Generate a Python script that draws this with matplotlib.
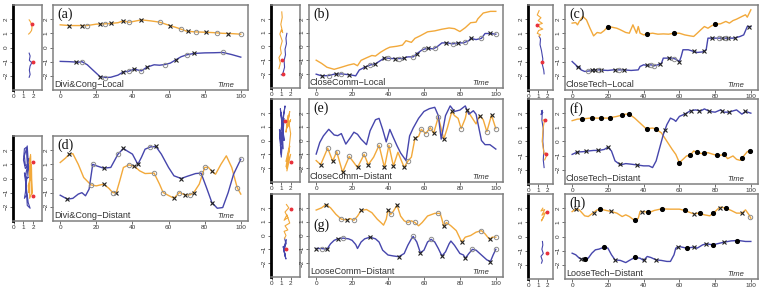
import numpy as np
import matplotlib
matplotlib.use('Agg')
import matplotlib.pyplot as plt

# ---------------- data ----------------
# (a) Divi&Cong-Local
a_or_t = [0,5,10,15,20,25,28,32,35,38,41,45,50,55,60,65,70,75,80,85,90,95,100]
a_or_v = [1.6,1.55,1.55,1.55,1.65,1.67,1.7,1.75,1.88,1.78,1.85,1.95,1.88,1.79,1.58,1.38,1.15,1.1,1.08,1.05,1.0,0.98,0.94]
a_bl_t = [0,5,10,12,15,18,22,25,28,32,35,38,41,45,48,52,55,58,61,64,67,70,74,80,85,90,95,100]
a_bl_v = [-0.98,-1.0,-1.04,-1.0,-1.22,-1.58,-2.05,-2.12,-2.1,-1.95,-1.72,-1.67,-1.53,-1.65,-1.39,-1.22,-1.25,-1.2,-1.1,-0.87,-0.65,-0.52,-0.42,-0.38,-0.37,-0.35,-0.5,-0.68]
a_or_x = [5,12,22,28,35,45,61,71,81,93]
a_or_o = [15,25,38,55,67,75,87,100]
a_bl_x = [9,22,35,41,48,64,74]
a_bl_o = [12,25,38,45,58,70,90]

# (d) Divi&Cong-Distant
d_or_t = [0,3,5,7,10,13,17,20,24,27,29,31,33,35,38,41,44,47,52,55,57,60,63,66,69,72,74,77,80,82,84,86,89,92,95,98,100]
d_or_v = [1.13,1.45,1.72,1.75,1.0,0.07,-0.45,-0.52,-0.4,-0.7,-0.99,-1.03,-0.15,0.78,0.96,0.87,0.54,0.35,0.38,-0.4,-0.99,-1.2,-1.39,-0.99,-1.15,-1.15,-0.99,-0.4,0.78,0.8,0.5,0.3,1.0,1.6,0.78,-0.64,-1.1]
d_bl_t = [0,4,7,10,12,14,16,18,20,24,28,30,32,35,37,40,43,45,47,50,53,56,60,63,67,70,75,78,81,84,87,90,93,96,100]
d_bl_v = [-1.18,-1.46,-1.4,-1.1,-1.0,-1.22,-0.75,1.0,0.9,0.73,0.78,1.25,1.72,2.12,1.95,1.72,1.0,1.5,2.07,2.23,2.26,1.72,0.78,0.19,0.0,0.14,0.35,0.38,-0.64,-1.7,-2.1,-2.05,-1.0,0.3,1.36]
d_or_x = [5,24,31,41,63,69,74,84]
d_or_o = [17,29,38,52,57,66,72,80,98]
d_bl_x = [4,24,35,43,53,67,84]
d_bl_o = [18,32,50,78,100]

# (b) CloseComm-Local
b_or_t = [0,3,6,10,14,18,21,23,25,28,31,33,36,39,41,45,48,50,53,55,58,62,66,70,74,77,80,83,86,89,90,93,97,100]
b_or_v = [-0.99,-1.22,-1.5,-1.65,-1.5,-1.34,-1.25,-1.39,-1.0,-0.82,-0.65,-0.69,-0.4,-0.17,-0.05,0.02,0.1,0.42,0.3,0.59,0.78,1.06,1.13,1.25,1.34,1.29,1.08,1.36,1.72,1.76,2.0,2.42,2.54,2.54]
b_bl_t = [0,3,7,10,14,19,22,24,27,30,33,36,38,42,45,48,51,54,56,59,62,65,67,70,73,76,79,82,85,86,89,92,94,97,100]
b_bl_v = [-2.0,-2.12,-2.1,-2.0,-1.98,-2.05,-2.12,-1.7,-1.5,-1.34,-1.25,-1.0,-0.82,-0.87,-0.87,-0.87,-0.75,-0.75,-0.52,-0.24,-0.12,-0.17,-0.05,0.26,0.26,0.19,0.26,0.26,0.42,0.59,0.5,0.59,0.94,0.94,0.89]
b_bl_x = [3,11,18,27,33,38,44,49,56,62,72,79,86,97]
b_bl_o = [7,14,30,40,46,54,60,66,76,83,92,100]

# (e) CloseComm-Distant
e_or_t = [0,2.5,6.4,9.2,11.4,14.7,18.4,23,26.7,29,32,35,38,40.5,43,45.5,49,51,53,55,57,58.5,61,63.5,65.4,68,71,73,75.5,77,79,80.7,83,84,87,89,91,93,95,97.6,100]
e_or_v = [-1.45,-1.75,-0.55,-1.5,-0.8,-2.3,-1.15,-1.95,-1.0,-1.75,-1.2,-0.35,-1.95,-0.35,-1.85,-0.85,-1.95,-1.5,-1.2,0.17,0.3,0.81,0.5,0.93,0.52,1.71,0.1,0.9,2.1,1.8,1.6,0.86,1.6,2.2,1.6,1.2,1.8,1.5,0.64,1.83,0.86]
e_bl_t = [0,2,4,7,10,12,14,16.5,19,21,23,25,28,30,33,35,37,39,41,43,45,47,50,52,54,57,60,63,66,68,69.6,72,74.6,77,80,83,85,87.5,89,92,94,96.7,100]
e_bl_v = [-0.98,-0.14,0.33,0.81,0.4,0.35,0.5,-0.26,0.2,0.6,0.45,0.1,-0.3,0.7,1.5,1.6,0.81,-0.1,0.8,0.2,-0.38,-0.9,-1.45,0.33,0.9,1.6,2.1,2.3,2.4,1.8,0.1,1.8,2.5,2.1,2.2,2.5,1.9,2.15,1.9,0.0,-0.3,-0.3,-0.62]
e_or_x = [2.5,9.2,14.7,23,29,38,43,49,55,65.4,71,75.5,84,91,97.6]
e_or_o = [6.4,11.4,18.4,26.7,35,40.5,51,58.5,61,63.5,68,80.7,95,100]

# (g) LooseComm-Distant
g_or_t = [0,3,5.5,8,11,14,17,19,21,23,25,28,31,34,36,37.5,39,40,41.5,43,45,47,49,51,53,55,57,59,62,66,69,70,71,72.5,75,78,81,83,86,89,92,94,96.5,98,100]
g_or_v = [1.84,2.0,2.24,2.0,1.53,1.18,1.13,1.22,1.1,1.4,1.81,1.88,1.65,1.18,0.94,0.75,1.18,1.84,1.53,1.76,2.19,1.4,1.06,0.94,1.06,0.94,0.7,0.94,1.41,1.6,1.6,1.18,0.66,0.94,0.7,0.35,-0.47,-0.12,0.0,0.24,0.35,0.12,-0.28,-0.12,-0.12]
g_bl_t = [0,3,6,8,10,12,15,18,20,22,23,25,27,30,33,35,37,40,43,46,49,51,53,54,56,58,60,62,64,66,68,70,72,74,75,77,80,82,83,85,87,89,92,95,97,98.5,100]
g_bl_v = [-0.94,-0.94,-0.99,-0.6,-0.35,-0.24,-0.19,-0.24,-0.35,-0.65,-0.94,-0.47,-0.24,-0.12,-0.24,-0.47,-1.06,-1.41,-1.48,-1.53,-1.3,-0.71,-0.24,-0.07,-0.47,-1.25,-1.06,-0.47,-0.28,-0.47,-0.94,-1.48,-1.18,-0.6,-0.4,-0.71,-1.3,-1.41,-1.65,-1.3,-1.0,-1.06,-1.41,-1.76,-1.88,-1.41,-1.0]
g_or_x = [5.5,17,25,40,45,71,81,96.5]
g_or_o = [14,21,41.5,51,55,68,72.5,92,100]
g_bl_x = [0,6,12,30,46,58,70,83,97]
g_bl_o = [3,15,54,64,87,100]

# (c) CloseTech-Local
c_or_t = [0,2,3,4,6,8,10,12,14,16,18,20,22,25,27,30,32,34,36,37,38,40,42,45,48,51,54,57,60,63,66,68,70,72,74,76,78,80,83,86,88,90,92,95,97,98,100]
c_or_v = [1.72,1.76,1.6,1.84,2.19,1.95,1.36,0.82,1.06,1.01,1.2,1.48,1.44,1.36,1.25,1.06,1.01,1.6,1.01,1.48,1.01,0.89,0.96,1.01,0.94,0.96,0.94,1.01,1.01,0.89,0.82,0.78,1.01,1.25,1.48,1.36,1.53,1.65,1.67,1.84,1.72,1.9,2.0,2.19,2.31,2.14,2.66]
c_bl_t = [0,1,2,3,4,5,7,10,12,15,17,20,23,26,29,33,37,38,40,42,44,46,48,50,51,53,56,58,60,61,62,65,67,70,73,75,76,78,81,84,88,90,92,94,96,98,100]
c_bl_v = [-0.99,-1.11,-1.22,-1.41,-1.34,-1.58,-1.69,-1.65,-1.58,-1.58,-1.6,-1.62,-1.58,-1.58,-1.58,-1.62,-1.58,-1.34,-1.22,-1.27,-1.22,-1.29,-1.22,-1.11,-0.75,-0.75,-0.75,-0.82,-0.99,-0.64,-0.16,-0.16,-0.24,-0.35,-0.31,-0.16,0.66,0.66,0.66,0.66,0.66,0.66,0.71,0.78,0.89,1.48,1.48]
c_or_dot = [20,42,57,80]
c_bl_x = [3,11,13,16,24,29,42,49,54,60,68,74,78,84,87,91,99]
c_bl_o = [9,15,26,44,46,57,82,86]

# (f) CloseTech-Distant
f_or_t = [0,3,6,10,15,20,25,30,32,35,38,41,42,45,47,50,53,56,58,60,62,64,66,68,70,73,76,79,82,85,87,90,92,94,96,98,100]
f_or_v = [1.47,1.58,1.6,1.65,1.65,1.65,1.77,1.93,1.93,1.65,1.3,0.95,0.91,0.95,0.88,0.6,0.02,-0.56,-0.91,-1.49,-1.26,-1.02,-0.98,-0.67,-0.79,-0.86,-0.79,-0.91,-1.0,-0.91,-1.21,-1.02,-1.26,-1.33,-1.02,-0.72,-0.63]
f_bl_t = [0,3,6,9,12,15,18,20,22,24,27,30,33,36,40,43,45,47,49,51,53,55,57,58,60,62,64,66,69,72,74,77,80,83,85,88,90,92,95,97,100]
f_bl_v = [-0.91,-0.74,-0.72,-0.67,-0.63,-0.63,-0.56,-0.4,-0.67,-1.37,-1.65,-1.56,-1.6,-1.65,-1.72,-1.72,-1.84,-1.37,-0.44,0.49,1.19,1.65,1.53,1.42,1.77,1.88,2.0,2.16,2.23,2.16,2.3,2.12,2.07,2.23,2.07,2.07,2.16,2.23,1.93,2.12,2.0]
f_or_dot = [5.5,11,16,21,28,32,42,47,60,65.7,69.7,74,80.8,85,95,99.5]
f_bl_x = [2.7,8,14.6,20,26.5,36.5,52,63,66.4,71,76.6,83.9,88,97]

# (h) LooseTech-Distant
h_or_t = [0,2,4,7,9,12,14,16,19,22,25,28,30,32,34,35,37,38,40,43,46,50,55,60,63,66,68,71,74,77,80,82,83,86,89,92,95,97,99,100]
h_or_v = [1.76,1.93,1.88,1.46,1.41,1.69,1.88,1.93,1.84,1.76,1.65,1.41,1.53,1.41,1.22,1.13,1.29,1.76,1.76,1.69,1.84,1.95,1.93,1.93,1.84,1.69,1.6,1.65,1.53,1.46,1.76,2.0,2.07,2.0,1.84,1.65,1.65,1.88,1.53,1.29]
h_bl_t = [0,2,4,5,7,9,11,13,15,18,20,22,24,27,30,32,35,38,40,42,44,47,50,53,55,57,58,60,64,68,70,73,75,79,81,85,89,93,97,100]
h_bl_v = [-1.18,-1.29,-1.53,-1.58,-1.58,-1.53,-1.18,-0.94,-0.89,-0.75,-0.82,-1.29,-1.65,-1.69,-1.84,-1.69,-1.48,-1.53,-1.69,-1.41,-1.48,-1.65,-1.69,-1.76,-1.76,-1.29,-0.82,-0.71,-0.82,-0.75,-0.82,-0.59,-0.52,-0.59,-0.52,-0.4,-0.31,-0.28,-0.35,-0.35]
h_or_x = [2.4,12,21.5,39,68,82.5,95.3]
h_or_dot = [15.5,35,42.7,50,63,71.5,79,86]
h_or_o = [99.5]
h_bl_x = [5,24,40,47,59,68,75,85]
h_bl_dot = [7,18,35,64,79,92]

# small state-space panels (x, y)
sa_or_x = [1.6,1.75,1.85,1.9,1.85,1.7,1.55]; sa_or_y = [1.95,1.8,1.6,1.4,1.2,1.05,0.95]
sa_bl_x = [1.6,1.7,1.62,1.75,1.9,1.7,1.62,1.7,1.6]; sa_bl_y = [-0.4,-0.6,-0.9,-1.0,-1.05,-1.3,-1.6,-1.9,-2.1]
sa_red_x = [1.95,2.05]; sa_red_y = [1.65,-1.05]

sd_bl_x = [1.3,1.1,1.2,1.5,1.2,1.0,1.1,1.3,1.4,1.2,1.1,1.4,1.6,1.3,1.1,1.5,1.7,1.4,1.2,1.6]
sd_bl_y = [-1.2,-1.4,-1.0,1.0,0.7,1.3,2.1,2.2,1.0,0.9,1.6,2.3,0.1,0.0,0.4,-1.7,-2.1,-1.9,0.2,1.4]
sd_or_x = [1.6,1.75,1.7,1.5,1.55,1.8,1.7,1.65,1.9,1.85,1.6,1.75,1.9]
sd_or_y = [1.1,1.7,0.0,-0.5,-1.0,1.0,0.4,-1.4,-1.0,0.8,0.3,1.6,-1.1]
sd_red_x = [1.96,1.96]; sd_red_y = [1.2,-1.22]

sb_or_x = [0.75,0.9,0.75,1.0,0.9,1.1,0.85,1.0,1.15,0.95,1.1,1.05]
sb_or_y = [-1.6,-1.2,-0.8,-0.5,-0.1,0.4,0.9,1.2,1.0,1.6,2.1,2.5]
sb_bl_x = [1.0,1.15,1.35,1.3,1.45,1.4,1.55,1.5,1.6]
sb_bl_y = [-2.05,-2.0,-1.5,-1.0,-0.6,-0.2,0.2,0.6,0.95]
sb_red_x = [1.1,1.2]; sb_red_y = [-1.0,-2.0]

se_bl_x = [1.0,0.8,1.2,0.9,1.3,1.0,0.85,1.4,1.1,0.9,1.3,1.0,1.2,0.9]
se_bl_y = [-1.0,0.8,0.2,-0.4,1.6,-1.2,0.3,2.5,1.0,2.3,0.0,2.0,-0.6,0.5]
se_or_x = [1.5,1.8,1.6,2.0,1.5,1.9,1.6,2.0,1.7,1.5,1.9,1.6,2.0,1.7]
se_or_y = [-1.5,-0.6,-2.2,-1.0,-1.9,-0.4,-2.0,0.5,1.8,0.6,2.1,0.9,1.5,1.0]
se_red_x = [1.37,2.0]; se_red_y = [1.4,-1.57]

sg_or_x = [1.55,1.8,1.4,1.7,1.3,1.6,1.9,1.4,1.7,1.3,1.5,1.35]
sg_or_y = [2.24,2.0,1.7,1.3,1.1,1.5,0.9,0.7,0.4,0.3,0.0,-0.2]
sg_bl_x = [1.35,1.5,1.25,1.55,1.3,1.45,1.2,1.5,1.35]
sg_bl_y = [-0.2,-0.6,-0.9,-0.3,-1.2,-1.5,-0.8,-1.7,-1.4]
sg_red_x = [2.04,1.55]; sg_red_y = [1.88,-0.99]

sc_or_x = [1.1,0.9,1.3,1.0,1.45,0.95,1.2,1.5,1.05,0.9,1.25,1.1]
sc_or_y = [2.6,2.3,2.1,1.9,1.7,1.6,1.4,1.3,1.2,1.0,0.9,0.8]
sc_bl_x = [1.1,1.25,1.2,1.35,1.4,1.5,1.45,1.6,1.64]
sc_bl_y = [0.8,0.6,0.2,-0.2,-0.4,-0.8,-1.2,-1.6,-1.86]
sc_red_x = [0.9,1.46]; sc_red_y = [1.6,-0.99]

sf_bl_x = [1.36,1.5,1.3,1.45,1.4,1.55,1.5,1.6,1.55,1.64]
sf_bl_y = [2.16,2.05,1.9,2.2,1.5,0.9,0.0,-0.7,-1.3,-1.84]
sf_or_x = [1.5,1.7,1.6,1.54,1.43,1.55,1.64,1.8,1.9,1.7]
sf_or_y = [1.5,1.55,1.2,0.95,0.02,-0.5,-0.9,-0.8,-1.0,-1.3]
sf_red_x = [1.78,1.82]; sf_red_y = [1.53,-0.9]

sh_or_x = [1.5,1.3,1.7,1.4,1.8,1.5,1.35,1.6]
sh_or_y = [2.0,1.8,1.9,1.5,1.7,1.3,1.1,1.4]
sh_bl_x = [1.46,1.5,1.4,1.55,1.3,1.45,1.36]
sh_bl_y = [-0.35,-0.6,-0.9,-1.2,-1.4,-1.7,-1.88]
sh_red_x = [1.96,1.96]; sh_red_y = [1.76,-1.18]

# ---------------- figure ----------------
W, H = 765, 287
fig = plt.figure(figsize=(W / 100, H / 100), dpi=100)
plt.rcParams['font.family'] = ['Liberation Sans', 'DejaVu Sans']

OR = '#F2A93B'
BL = '#4646AC'
RED = '#E8323C'
GRAY = '#808080'
TXT = '#333333'


def px_axes(l, t, r, b):
    return fig.add_axes([l / W, 1 - b / H, (r - l) / W, (b - t) / H])


def style(ax, small):
    for s in ax.spines.values():
        s.set_color(GRAY)
        s.set_linewidth(1.1)
    if small:
        ax.spines['left'].set_color('black')
        ax.spines['left'].set_linewidth(2.0)
    ax.set_ylim(-3, 3)
    ax.set_yticks([-2, -1, 0, 1, 2])
    ax.tick_params(labelsize=4.6, colors=TXT, length=2, width=0.5, pad=1)
    ax.tick_params(axis='y', labelrotation=90)
    for lab in ax.get_yticklabels():
        lab.set_va('center')


def marks(ax, t, v, times, kind):
    if not times:
        return
    y = np.interp(times, t, v)
    if kind == 'x':
        ax.plot(times, y, ls='none', marker='x', ms=3.2, mew=0.8, color='#222222', zorder=4)
    elif kind == 'o':
        ax.plot(times, y, ls='none', marker='o', ms=3.2, mew=0.7, mfc='none', mec='#8c8c8c', zorder=4)
    else:
        ax.plot(times, y, ls='none', marker='o', ms=2.7, color='black', zorder=4)


panels = [
    dict(letter='(a)', name='Divi&Cong\u2212Local', sbox=(13, 5, 42, 90), wbox=(53, 5, 248, 90), sxl=(-0.1, 2.95),
         o=(a_or_t, a_or_v), b=(a_bl_t, a_bl_v),
         om=[(a_or_x, 'x'), (a_or_o, 'o')], bm=[(a_bl_x, 'x'), (a_bl_o, 'o')],
         s=((sa_or_x, sa_or_y), (sa_bl_x, sa_bl_y), (sa_red_x, sa_red_y)), ly=0.97),
    dict(letter='(d)', name='Divi&Cong\u2212Distant', sbox=(13, 136, 42, 221), wbox=(53, 136, 248, 221), sxl=(-0.1, 2.95),
         o=(d_or_t, d_or_v), b=(d_bl_t, d_bl_v),
         om=[(d_or_x, 'x'), (d_or_o, 'o')], bm=[(d_bl_x, 'x'), (d_bl_o, 'o')],
         s=((sd_or_x, sd_or_y), (sd_bl_x, sd_bl_y), (sd_red_x, sd_red_y)), ly=0.97),
    dict(letter='(b)', name='CloseComm\u2212Local', sbox=(271, 5, 300, 88), wbox=(309, 5, 503, 88), sxl=(-0.1, 3.0),
         o=(b_or_t, b_or_v), b=(b_bl_t, b_bl_v),
         om=[], bm=[(b_bl_x, 'x'), (b_bl_o, 'o')],
         s=((sb_or_x, sb_or_y), (sb_bl_x, sb_bl_y), (sb_red_x, sb_red_y)), ly=0.97),
    dict(letter='(e)', name='CloseComm\u2212Distant', sbox=(271, 99, 300, 182), wbox=(309, 99, 503, 182), sxl=(-0.1, 3.0),
         o=(e_or_t, e_or_v), b=(e_bl_t, e_bl_v),
         om=[(e_or_x, 'x'), (e_or_o, 'o')], bm=[],
         s=((se_or_x, se_or_y), (se_bl_x, se_bl_y), (se_red_x, se_red_y)), ly=0.97),
    dict(letter='(g)', name='LooseComm\u2212Distant', sbox=(271, 194, 300, 277), wbox=(309, 194, 503, 277), sxl=(-0.1, 3.0),
         o=(g_or_t, g_or_v), b=(g_bl_t, g_bl_v),
         om=[(g_or_x, 'x'), (g_or_o, 'o')], bm=[(g_bl_x, 'x'), (g_bl_o, 'o')],
         s=((sg_or_x, sg_or_y), (sg_bl_x, sg_bl_y), (sg_red_x, sg_red_y)), ly=0.71),
    dict(letter='(c)', name='CloseTech\u2212Local', sbox=(528, 5, 553, 90), wbox=(565, 5, 758, 90), sxl=(-0.1, 2.6),
         o=(c_or_t, c_or_v), b=(c_bl_t, c_bl_v),
         om=[(c_or_dot, 'dot')], bm=[(c_bl_x, 'x'), (c_bl_o, 'o')],
         s=((sc_or_x, sc_or_y), (sc_bl_x, sc_bl_y), (sc_red_x, sc_red_y)), ly=0.97),
    dict(letter='(f)', name='CloseTech\u2212Distant', sbox=(528, 99, 553, 184), wbox=(565, 99, 758, 184), sxl=(-0.1, 2.6),
         o=(f_or_t, f_or_v), b=(f_bl_t, f_bl_v),
         om=[(f_or_dot, 'dot')], bm=[(f_bl_x, 'x')],
         s=((sf_or_x, sf_or_y), (sf_bl_x, sf_bl_y), (sf_red_x, sf_red_y)), ly=0.97),
    dict(letter='(h)', name='LooseTech\u2212Distant', sbox=(528, 194, 553, 279), wbox=(565, 194, 758, 279), sxl=(-0.1, 2.6),
         o=(h_or_t, h_or_v), b=(h_bl_t, h_bl_v),
         om=[(h_or_x, 'x'), (h_or_dot, 'dot'), (h_or_o, 'o')], bm=[(h_bl_x, 'x'), (h_bl_dot, 'dot')],
         s=((sh_or_x, sh_or_y), (sh_bl_x, sh_bl_y), (sh_red_x, sh_red_y)), ly=0.97),
]

for p in panels:
    # small state-space panel
    sa = px_axes(*p['sbox'])
    style(sa, True)
    sa.set_xlim(*p['sxl'])
    sa.set_xticks([0, 1, 2])
    (ox, oy), (bx, by), (rx, ry) = p['s']
    sa.plot(bx, by, color=BL, lw=0.8)
    sa.plot(ox, oy, color=OR, lw=0.8)
    sa.plot(rx, ry, ls='none', marker='o', ms=1.8, color=RED, zorder=5)

    # wide time-series panel
    wa = px_axes(*p['wbox'])
    style(wa, False)
    wa.set_xlim(-4, 104)
    wa.set_xticks([0, 20, 40, 60, 80, 100])
    ot, ov = p['o']
    bt, bv = p['b']
    wa.plot(ot, ov, color=OR, lw=1.0, zorder=2)
    wa.plot(bt, bv, color=BL, lw=1.0, zorder=2)
    for times, kind in p['om']:
        marks(wa, ot, ov, times, kind)
    for times, kind in p['bm']:
        marks(wa, bt, bv, times, kind)
    wa.text(0.004, 0.012, p['name'], transform=wa.transAxes, fontsize=6.5, color=TXT,
            ha='left', va='bottom')
    wa.text(0.885, 0.015, 'Time', transform=wa.transAxes, fontsize=5.5, color=TXT,
            ha='center', va='bottom', style='italic')
    wa.text(0.025, p['ly'], p['letter'], transform=wa.transAxes, fontsize=10,
            family=['Liberation Serif', 'DejaVu Serif'], color='#111111', ha='left', va='top')

fig.savefig('out.png', dpi=100)
